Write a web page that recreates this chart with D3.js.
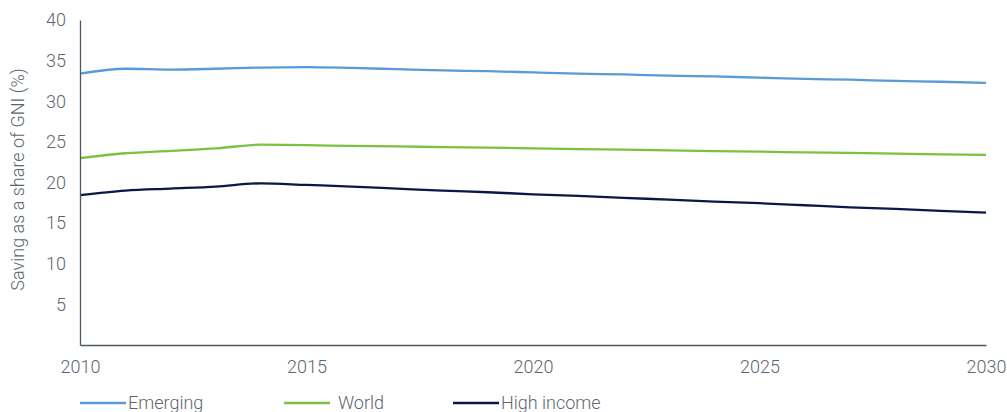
<!DOCTYPE html>
<html>
<head>
<meta charset="utf-8">
<script src="https://cdn.jsdelivr.net/npm/d3@7"></script>
<style>
  body { margin: 0; background: #fff; }
  svg text { font-family: Roboto, "Liberation Sans", Arial, sans-serif; font-weight: 300; fill: #5d6670; }
</style>
</head>
<body>
<div id="chart"></div>
<script>
// Saving as a share of GNI, 2010-2030
const years = d3.range(2010, 2031);
const emerging = [33.4, 34.0, 33.9, 34.0, 34.15, 34.2, 34.1, 33.95, 33.8, 33.7, 33.55, 33.4, 33.3, 33.15, 33.05, 32.9, 32.75, 32.65, 32.5, 32.4, 32.25];
const world = [23.0, 23.6, 23.9, 24.2, 24.65, 24.6, 24.5, 24.45, 24.35, 24.3, 24.2, 24.1, 24.05, 23.95, 23.85, 23.8, 23.7, 23.65, 23.55, 23.45, 23.4];
const highIncome = [18.45, 19.0, 19.25, 19.5, 19.9, 19.7, 19.5, 19.25, 19.0, 18.8, 18.55, 18.35, 18.1, 17.9, 17.65, 17.45, 17.2, 16.95, 16.75, 16.5, 16.3];
const yTicks = [5, 10, 15, 20, 25, 30, 35, 40];
const xTicks = [2010, 2015, 2020, 2025, 2030];

const series = [
    { name: "Emerging", values: emerging, color: "#5a9bd5" },
    { name: "World", values: world, color: "#7cc142" },
    { name: "High income", values: highIncome, color: "#0b1847" }
];

const width = 1007, height = 412;
const margin = { top: 20, left: 80, right: 21, bottom: 67 };

const svg = d3.select("#chart").append("svg")
    .attr("width", width)
    .attr("height", height);

const x = d3.scaleLinear()
    .domain([2010, 2030])
    .range([margin.left, width - margin.right]);

const y = d3.scaleLinear()
    .domain([0, 40])
    .range([height - margin.bottom, margin.top]);

// Lines
const line = d3.line()
    .x((d, i) => x(years[i]))
    .y(d => y(d))
    .curve(d3.curveMonotoneX);

series.forEach(s => {
    svg.append("path")
        .attr("d", line(s.values))
        .attr("fill", "none")
        .attr("stroke", s.color)
        .attr("stroke-width", 2.3);
});

// Axes
const yAxis = svg.append("g")
    .attr("transform", "translate(" + margin.left + ",0)")
    .call(d3.axisLeft(y).tickValues(yTicks).tickSize(0).tickPadding(14));
yAxis.select(".domain").attr("stroke", "#4d5862").attr("stroke-width", 1.3);
yAxis.selectAll("text").style("font-size", "18px").attr("fill", "#5d6670");

const xAxis = svg.append("g")
    .attr("transform", "translate(0," + y(0) + ")")
    .call(d3.axisBottom(x).tickValues(xTicks).tickFormat(d3.format("d")).tickSize(0).tickPadding(15));
xAxis.select(".domain").attr("stroke", "#4d5862").attr("stroke-width", 1.3);
xAxis.selectAll("text").style("font-size", "18px").attr("fill", "#5d6670");

// Y axis title
svg.append("text")
    .attr("transform", "translate(24," + (margin.top + (y(0) - margin.top) / 2 - 3) + ") rotate(-90)")
    .attr("text-anchor", "middle")
    .style("font-size", "18px")
    .text("Saving as a share of GNI (%)");

// Legend
const legendX = [80, 284, 453];
const legend = svg.append("g").attr("transform", "translate(0,403)");
series.forEach((s, i) => {
    legend.append("line")
        .attr("x1", legendX[i]).attr("x2", legendX[i] + 46)
        .attr("y1", 0).attr("y2", 0)
        .attr("stroke", s.color)
        .attr("stroke-width", 2.3);
    legend.append("text")
        .attr("x", legendX[i] + 47 + (i === 1 ? 7 : 1))
        .attr("y", 0)
        .attr("dy", "0.35em")
        .style("font-size", "18px")
        .text(s.name);
});
</script>
</body>
</html>
